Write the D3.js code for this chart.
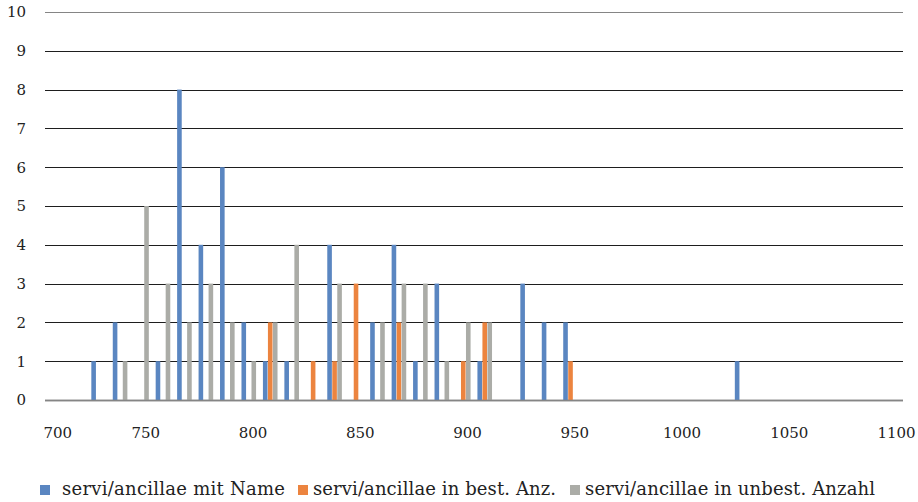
<!DOCTYPE html>
<html>

<head>
    <meta charset="utf-8">
    <script src="https://d3js.org/d3.v7.min.js"></script>
    <style>
        body {
            margin: 0;
            background: #fff;
        }
    </style>
</head>

<body>
    <svg id="chart" width="918" height="502"></svg>

    <script>
        // bins of ten years, given by their midpoint
        var years = [725, 735, 745, 755, 765, 775, 785, 795, 805, 815, 825, 835,
            845, 855, 865, 875, 885, 895, 905, 915, 925, 935, 945, 1025];
        var mitName = [1, 2, 0, 1, 8, 4, 6, 2, 1, 1, 0, 4,
            0, 2, 4, 1, 3, 0, 1, 0, 3, 2, 2, 1];
        var bestAnz = [0, 0, 0, 0, 0, 0, 0, 0, 2, 0, 1, 1,
            3, 0, 2, 0, 0, 1, 2, 0, 0, 0, 1, 0];
        var unbestAnz = [0, 1, 5, 3, 2, 3, 2, 1, 2, 4, 0, 3,
            0, 2, 3, 3, 1, 2, 2, 0, 0, 0, 0, 0];
        var seriesNames = ["servi/ancillae mit Name", "servi/ancillae in best. Anz.", "servi/ancillae in unbest. Anzahl"];
        var seriesColors = ["#5a86c1", "#ec843f", "#abaca7"];
        var xTicks = [700, 750, 800, 850, 900, 950, 1000, 1050, 1100];
        var yTicks = [0, 1, 2, 3, 4, 5, 6, 7, 8, 9, 10];

        var series = [mitName, bestAnz, unbestAnz];

        var margin = { top: 12, right: 15, bottom: 102, left: 45 },
            width = 918 - margin.left - margin.right,
            height = 502 - margin.top - margin.bottom;

        var svgRoot = d3.select("#chart");

        var svg = svgRoot.append("g")
            .attr("transform", "translate(" + margin.left + "," + margin.top + ")");

        var x = d3.scaleLinear().domain([700, 1100]).range([0, width]);
        var y = d3.scaleLinear().domain([0, 10]).range([height, 0]);

        // horizontal gridlines
        svg.append("g")
            .selectAll("line")
            .data(yTicks)
            .enter()
            .append("line")
            .attr("x1", 0)
            .attr("x2", width)
            .attr("y1", function (d) { return Math.round(y(d)) + 0.5; })
            .attr("y2", function (d) { return Math.round(y(d)) + 0.5; })
            .style("stroke", function (d) { return (d == 0 || d == 10) ? "#858585" : "#1e1e1e"; })
            .style("stroke-width", function (d) { return d == 0 ? 1.6 : 1; });

        // bars: three per bin, side by side around the bin midpoint
        var barW = 4.6, step = 5;
        series.forEach(function (vals, i) {
            svg.append("g")
                .selectAll("rect")
                .data(years.map(function (yr, j) { return { year: yr, value: vals[j] }; })
                    .filter(function (d) { return d.value > 0; }))
                .enter()
                .append("rect")
                .attr("x", function (d) { return x(d.year) + (i - 1) * step - barW / 2; })
                .attr("y", function (d) { return y(d.value); })
                .attr("width", barW)
                .attr("height", function (d) { return height - y(d.value); })
                .style("fill", seriesColors[i]);
        });

        // redraw baseline on top
        svg.append("line")
            .attr("x1", 0).attr("x2", width)
            .attr("y1", height + 0.5).attr("y2", height + 0.5)
            .style("stroke", "#858585")
            .style("stroke-width", 1.6);

        // Y axis
        var yAxis = svg.append("g")
            .call(d3.axisLeft(y).tickValues(yTicks).tickSize(0).tickPadding(19));
        yAxis.attr("font-family", "DejaVu Serif").attr("font-size", 15);
        yAxis.select(".domain").remove();
        yAxis.selectAll("text").attr("fill", "#222");

        // X axis
        var xAxis = svg.append("g")
            .attr("transform", "translate(0," + height + ")")
            .call(d3.axisBottom(x).tickValues(xTicks).tickFormat(d3.format("d")).tickSize(0).tickPadding(27));
        xAxis.attr("font-family", "DejaVu Serif").attr("font-size", 15);
        xAxis.select(".domain").remove();
        xAxis.selectAll("text")
            .attr("fill", "#222")
            .attr("dx", function (d) { return d == 700 ? -2 : -7; })
            .attr("text-anchor", function (d) { return d == 700 ? "start" : "middle"; });

        // legend
        var legendX = [40, 298, 570];
        var textX = [62, 313, 585];
        var textW = [223, 243, 290];
        var legend = svgRoot.append("g")
            .attr("font-family", "DejaVu Serif")
            .attr("font-size", 18);
        seriesNames.forEach(function (name, i) {
            legend.append("rect")
                .attr("x", legendX[i])
                .attr("y", 485)
                .attr("width", 10)
                .attr("height", 10)
                .style("fill", seriesColors[i]);
            legend.append("text")
                .attr("x", textX[i])
                .attr("y", 495)
                .attr("textLength", textW[i])
                .attr("lengthAdjust", "spacing")
                .attr("fill", "#222")
                .text(name);
        });
    </script>
</body>

</html>
